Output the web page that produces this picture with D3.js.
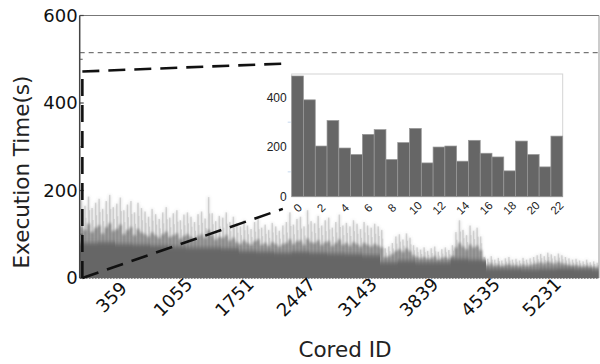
<!DOCTYPE html>
<html><head><meta charset="utf-8">
<script src="https://cdn.jsdelivr.net/npm/d3@7"></script>
<style>body{margin:0;background:#fff} svg{display:block}</style>
</head><body><svg id="c" width="600" height="364"></svg>
<script>
// ---------- DATA ----------
const coreBinSize = 40;           // cores per bin for the fuzzy layers
const coreCount = 5880;
// maximum execution time seen in each 40-core bin
const peakTime = [
 178,165,186,160,172,181,158,176,190,162,170,184,155,168,176,150,172,160,
 152,140,158,146,135,150,162,138,148,155,132,145,150,140,128,146,152,136,185,148,130,142,138,150,128,140,
 125,118,132,120,112,128,135,115,122,110,126,118,108,120,
 128,150,122,135,140,118,155,130,125,142,120,132,138,115,128,145,120,126,118,132,124,112,128,120,115,124,118,110,
 68,72,80,95,100,88,102,92,75,70,
 65,70,62,68,72,60,66,70,64,75,
 105,132,110,98,120,108,115,95,
 48,44,50,42,46,40,45,48,42,44,40,46,42,45,48,52,55,50,58,54,50,56,52,48,45,42,44,40,38,42,36,38,35
];
// typical upper execution time in each 40-core bin
const bodyTime = [
 118,110,124,105,115,120,102,116,125,108,112,122,100,110,116,98,112,104,
 100,95,104,98,92,100,106,94,98,102,90,96,100,94,88,96,100,92,110,98,88,94,92,98,86,92,
 82,78,86,80,76,84,88,76,80,74,82,78,72,78,
 80,88,78,84,86,76,90,82,80,86,76,82,84,74,80,88,76,80,74,82,78,72,80,76,72,78,74,70,
 48,50,55,62,66,60,68,62,52,48,
 45,48,44,46,50,42,46,48,44,50,
 70,80,72,66,76,70,74,64,
 32,30,34,28,31,27,30,32,28,30,27,31,28,30,32,34,36,33,38,35,33,37,34,32,30,28,30,27,26,28,25,26,24
];
const baseSegSize = 200;          // cores per segment for the solid layer
const baseTime = [80,82,78,76,74,72,70,70,68,62,60,58,60,58,56,55,52,36,40,36,36,44,42,22,21,20,22,23,21,19];

const xTickCores = [359,1055,1751,2447,3143,3839,4535,5231];
const yTickValues = [0,200,400,600];
const yMinorTicks = [100,300,500];
const thresholdTime = 515;

// zoom guide (data space)
const zoomCoreStart = 30, zoomCoreEnd = 2300;
const zoomTopStart = 472, zoomTopEnd = 490, zoomBottomEnd = 158;

// inset: first 23 cores
const insetCores = [0,1,2,3,4,5,6,7,8,9,10,11,12,13,14,15,16,17,18,19,20,21,22];
const insetTime = [486,390,204,307,196,170,251,270,150,218,275,136,200,204,143,227,175,160,104,224,170,120,244];
const insetXTicks = [0,2,4,6,8,10,12,14,16,18,20,22];
const insetYTicks = [0,200,400];
const insetYMinor = [100,300];

// ---------- LAYOUT ----------
const plot = {left:79.7, right:599, top:15.5, bottom:278};
const inset = {left:291.7, right:562.7, top:74, bottom:196.7};
const MAINFONT = "DejaVu Sans, sans-serif";
const INFONT = "Liberation Sans, Arial, sans-serif";

const svg = d3.select('#c');
const x = d3.scaleLinear().domain([0, coreCount]).range([plot.left, plot.right]);
const y = d3.scaleLinear().domain([0, 600]).range([plot.bottom, plot.top]);

const defs = svg.append('defs');
defs.append('clipPath').attr('id','pc').append('rect')
  .attr('x', plot.left).attr('y', plot.top).attr('width', plot.right-plot.left).attr('height', plot.bottom-plot.top);
const blur = defs.append('filter').attr('id','soft').attr('x','-5%').attr('y','-5%').attr('width','110%').attr('height','110%');
blur.append('feGaussianBlur').attr('stdDeviation','1.2 1.6');
const blur2 = defs.append('filter').attr('id','soft2').attr('x','-5%').attr('y','-10%').attr('width','110%').attr('height','120%');
blur2.append('feGaussianBlur').attr('stdDeviation','0.6 2.2');

const g = svg.append('g').attr('clip-path','url(#pc)');

function stepArea(values, size){
  const pts = values.map((v,i)=>[i*size, v]);
  pts.push([values.length*size, values[values.length-1]]);
  return d3.area().x(d=>x(d[0])).y0(y(-15)).y1(d=>y(d[1])).curve(d3.curveStepAfter)(pts);
}
const binW = x(coreBinSize) - x(0);
// faint envelope of peaks
g.append('path').attr('d', stepArea(peakTime, coreBinSize)).attr('fill','#666').attr('fill-opacity',0.13).attr('filter','url(#soft)');
// spikes: thin streaks reaching each bin's peak
g.append('g').selectAll('rect').data(peakTime).join('rect')
  .attr('x',(d,i)=>x(i*coreBinSize)+binW*0.3).attr('width',binW*0.4)
  .attr('y',d=>y(d)).attr('height',d=>y(0)-y(d))
  .attr('fill','#666').attr('fill-opacity',0.22);
g.append('g').selectAll('rect').data(bodyTime).join('rect')
  .attr('x',(d,i)=>x(i*coreBinSize)+binW*0.65).attr('width',binW*0.3)
  .attr('y',(d,i)=>y((d+peakTime[i])/2)).attr('height',(d,i)=>y(0)-y((d+peakTime[i])/2))
  .attr('fill','#666').attr('fill-opacity',0.18);
// main body
g.append('path').attr('d', stepArea(bodyTime, coreBinSize)).attr('fill','#666').attr('fill-opacity',0.6).attr('filter','url(#soft)');
g.append('path').attr('d', stepArea(baseTime, baseSegSize)).attr('fill','#666').attr('fill-opacity',1).attr('filter','url(#soft2)');

// frame
svg.append('line').attr('x1',plot.left).attr('x2',plot.right).attr('y1',plot.top).attr('y2',plot.top).attr('stroke','#777').attr('stroke-width',1);
svg.append('line').attr('x1',plot.right).attr('x2',plot.right).attr('y1',plot.top).attr('y2',plot.bottom).attr('stroke','#999').attr('stroke-width',1);
svg.append('line').attr('x1',plot.left).attr('x2',plot.right).attr('y1',plot.bottom+0.5).attr('y2',plot.bottom+0.5).attr('stroke','#888').attr('stroke-width',1).attr('stroke-dasharray','2,1');
svg.append('line').attr('x1',plot.left).attr('x2',plot.left).attr('y1',plot.top).attr('y2',plot.bottom).attr('stroke','#444').attr('stroke-width',1.5);

// y axis ticks
svg.append('g').selectAll('line').data(yTickValues).join('line')
  .attr('x1',plot.left).attr('x2',plot.left+4).attr('y1',d=>y(d)).attr('y2',d=>y(d)).attr('stroke','#444').attr('stroke-width',1.2);
svg.append('g').selectAll('line').data(yMinorTicks).join('line')
  .attr('x1',plot.left).attr('x2',plot.left+3).attr('y1',d=>y(d)).attr('y2',d=>y(d)).attr('stroke','#555').attr('stroke-width',1);
svg.append('g').selectAll('text').data(yTickValues).join('text')
  .attr('x',plot.left-2).attr('y',d=>y(d)).attr('dy','0.36em').attr('text-anchor','end')
  .attr('font-family',MAINFONT).attr('font-size',18).attr('fill','#111').text(d=>d);

// x tick labels
svg.append('g').selectAll('text').data(xTickCores).join('text')
  .attr('transform',d=>`translate(${x(d)},297) rotate(-45)`)
  .attr('text-anchor','middle').attr('dy','0.36em')
  .attr('font-family',MAINFONT).attr('font-size',18).attr('fill','#111').text(d=>d);

// axis titles
svg.append('text').attr('x',345).attr('y',357).attr('text-anchor','middle')
  .attr('font-family',MAINFONT).attr('font-size',21.5).attr('fill','#222').text('Cored ID');
svg.append('text').attr('transform','translate(29,172) rotate(-90)').attr('text-anchor','middle')
  .attr('font-family',MAINFONT).attr('font-size',21.5).attr('fill','#222').text('Execution Time(s)');

// threshold dashed line
svg.append('line').attr('x1',plot.left).attr('x2',plot.right).attr('y1',y(thresholdTime)).attr('y2',y(thresholdTime))
  .attr('stroke','#555').attr('stroke-width',1).attr('stroke-dasharray','5,4');

// zoom guide lines
const guide = svg.append('g').attr('stroke','#111').attr('stroke-width',2.6).attr('stroke-dasharray','17,9').attr('fill','none');
guide.append('line').attr('x1',x(zoomCoreStart)).attr('x2',x(zoomCoreStart)).attr('y1',y(0)).attr('y2',y(zoomTopStart));
guide.append('line').attr('x1',x(zoomCoreStart)).attr('x2',x(zoomCoreEnd)).attr('y1',y(zoomTopStart)).attr('y2',y(zoomTopEnd));
guide.append('line').attr('x1',x(zoomCoreStart)).attr('x2',x(zoomCoreEnd)).attr('y1',y(0)).attr('y2',y(zoomBottomEnd));

// ---------- INSET ----------
const ix = d3.scaleBand().domain(insetCores).range([inset.left, inset.right]).padding(0);
const iy = d3.scaleLinear().domain([0, 494]).range([inset.bottom, inset.top]);
svg.append('rect').attr('x',inset.left).attr('y',inset.top).attr('width',inset.right-inset.left).attr('height',inset.bottom-inset.top)
  .attr('fill','#fff').attr('stroke','#d4d4d4').attr('stroke-width',1);
svg.append('g').selectAll('rect').data(insetTime).join('rect')
  .attr('x',(d,i)=>ix(insetCores[i])).attr('width',ix.bandwidth())
  .attr('y',d=>iy(d)).attr('height',d=>iy(0)-iy(d))
  .attr('fill','#666').attr('stroke','#999').attr('stroke-width',0.7);
svg.append('g').selectAll('line').data(insetYMinor).join('line')
  .attr('x1',inset.left-4).attr('x2',inset.left-1).attr('y1',d=>iy(d)).attr('y2',d=>iy(d)).attr('stroke','#c5d8ee').attr('stroke-width',1);
svg.append('g').selectAll('text').data(insetYTicks).join('text')
  .attr('x',inset.left-5).attr('y',d=>iy(d)).attr('dy','0.35em').attr('text-anchor','end')
  .attr('font-family',INFONT).attr('font-size',12).attr('fill','#222').text(d=>d);
svg.append('g').selectAll('text').data(insetXTicks).join('text')
  .attr('transform',d=>`translate(${ix(d)+ix.bandwidth()/2},208) rotate(-45)`)
  .attr('text-anchor','middle').attr('dy','0.35em')
  .attr('font-family',INFONT).attr('font-size',11.5).attr('fill','#222').text(d=>d);
</script></body></html>
